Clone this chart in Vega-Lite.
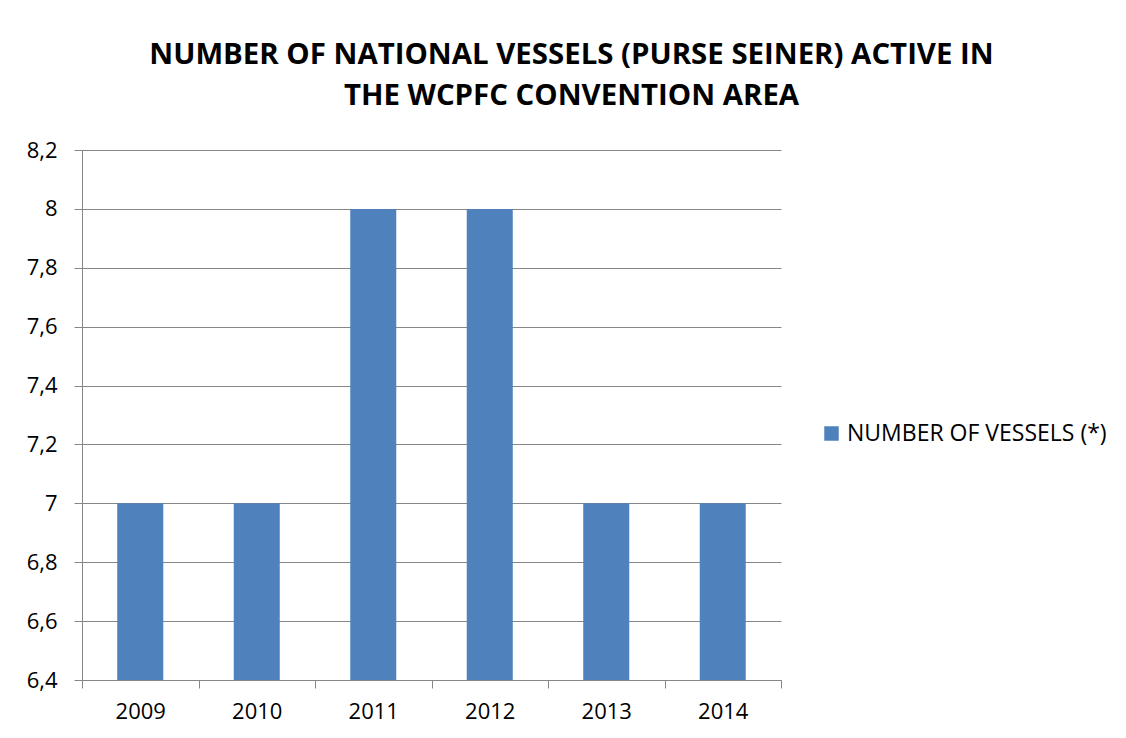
{
  "$schema": "https://vega.github.io/schema/vega-lite/v6.json",
  "width": 699,
  "height": 530,
  "autosize": {"type": "none"},
  "padding": {"left": 82, "top": 150, "right": 345, "bottom": 58},
  "background": "white",
  "title": {
    "text": ["NUMBER OF NATIONAL VESSELS (PURSE SEINER) ACTIVE IN", "THE WCPFC CONVENTION AREA"],
    "font": "Open Sans",
    "fontSize": 29.4,
    "fontWeight": "bold",
    "color": "black",
    "anchor": "middle",
    "dx": 140,
    "offset": 28,
    "lineHeight": 41
  },
  "data": {
    "values": [
      {"year": "2009", "vessels": 7, "series": "NUMBER OF VESSELS (*)"},
      {"year": "2010", "vessels": 7, "series": "NUMBER OF VESSELS (*)"},
      {"year": "2011", "vessels": 8, "series": "NUMBER OF VESSELS (*)"},
      {"year": "2012", "vessels": 8, "series": "NUMBER OF VESSELS (*)"},
      {"year": "2013", "vessels": 7, "series": "NUMBER OF VESSELS (*)"},
      {"year": "2014", "vessels": 7, "series": "NUMBER OF VESSELS (*)"}
    ]
  },
  "mark": {"type": "bar", "clip": true, "width": {"band": 0.395}},
  "encoding": {
    "x": {
      "field": "year",
      "type": "nominal",
      "scale": {"paddingInner": 0, "paddingOuter": 0},
      "axis": {
        "title": null,
        "labelAngle": 0,
        "labelFont": "Open Sans",
        "labelFontSize": 22,
        "labelColor": "black",
        "labelPadding": 13,
        "tickBand": "extent",
        "tickSize": 8,
        "tickColor": "#868686",
        "domainColor": "#868686",
        "grid": false
      }
    },
    "y": {
      "field": "vessels",
      "type": "quantitative",
      "scale": {"domain": [6.4, 8.2], "nice": false, "zero": false},
      "axis": {
        "title": null,
        "values": [6.4, 6.6, 6.8, 7, 7.2, 7.4, 7.6, 7.8, 8, 8.2],
        "labelExpr": "replace(format(datum.value, '~g'), '.', ',')",
        "labelFont": "Open Sans",
        "labelFontSize": 22,
        "labelColor": "black",
        "labelPadding": 17,
        "tickSize": 8,
        "tickColor": "#868686",
        "domainColor": "#868686",
        "grid": true,
        "gridColor": "#868686",
        "gridWidth": 1
      }
    },
    "color": {
      "field": "series",
      "type": "nominal",
      "scale": {"range": ["#4F81BD"]},
      "legend": {
        "title": null,
        "orient": "none",
        "legendX": 738,
        "legendY": 272,
        "padding": 0,
        "symbolType": "square",
        "symbolSize": 210,
        "symbolStrokeWidth": 0,
        "labelFont": "Open Sans",
        "labelFontSize": 23,
        "labelColor": "black",
        "labelOffset": 4,
        "labelLimit": 400
      }
    }
  },
  "config": {
    "view": {"stroke": null}
  }
}
